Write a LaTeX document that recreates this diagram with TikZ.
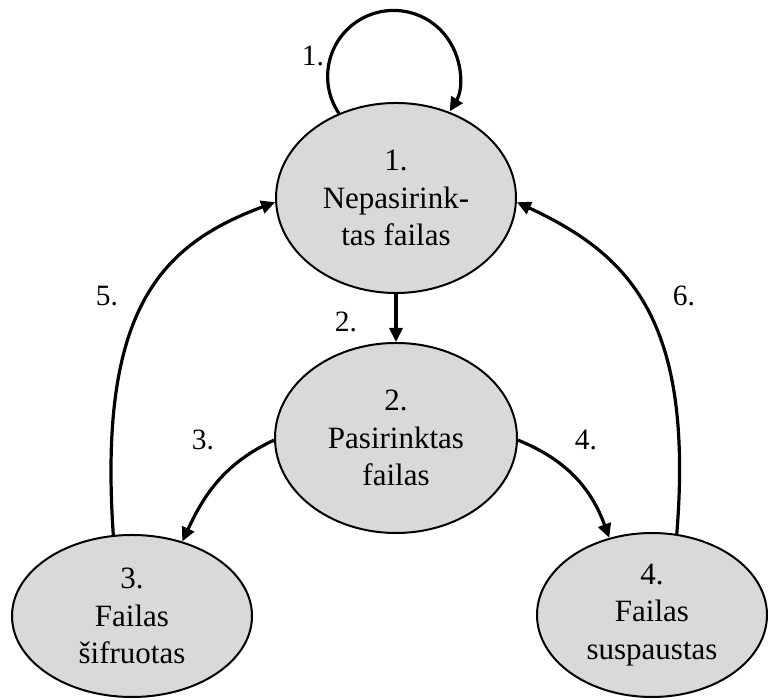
\documentclass[tikz,border=0pt]{standalone}
\usepackage{fontspec}
\setmainfont{Liberation Serif}
\usetikzlibrary{shapes.geometric,arrows.meta}
\definecolor{stategray}{HTML}{D9D9D9}
\begin{document}
\begin{tikzpicture}[x=1pt,y=1pt,
  state/.style={ellipse, draw, line width=2pt, fill=stategray, inner sep=0pt,
    align=center, font=\fontsize{31}{37.5}\selectfont},
  arr/.style={line width=3.2pt, -{Triangle[length=14pt,width=13pt]}},
  lbl/.style={font=\fontsize{29.5}{35}\selectfont, inner sep=0pt}]
\useasboundingbox (0,0) rectangle (768,700);
\node[state, minimum width=240pt, minimum height=190pt] (E1) at (396,502) {1.\\Nepasirink-\\tas failas};
\node[state, minimum width=242pt, minimum height=190pt] (E2) at (396,262) {2.\\Pasirinktas\\failas};
\node[state, minimum width=240pt, minimum height=162pt] (E3) at (132,84) {3.\\Failas\\šifruotas};
\node[state, minimum width=230pt, minimum height=164pt] (E4) at (652,85) {4.\\Failas\\suspaustas};

\draw[arr] (E1.124) arc[start angle=214, end angle=-32, radius=66];
\draw[arr] (E1.south) -- (E2.north);
\draw[arr] (E2.181) to[out=205,in=65] (E3.56);
\draw[arr] (E2.-1) to[out=-22,in=110] (E4.119);
\draw[arr] (E3.103) .. controls (98,390) and (160,455) .. (E1.182);
\draw[arr] (E4.73) .. controls (694,380) and (630,445) .. (E1.-2);

\node[lbl] (L1) at (313,644) {1.};
\node[lbl] (L2) at (346,378) {2.};
\node[lbl] (L3) at (203,260) {3.};
\node[lbl] (L4) at (586,260) {4.};
\node[lbl] (L5) at (107,404) {5.};
\node[lbl] (L6) at (684,404) {6.};
\end{tikzpicture}
\end{document}
